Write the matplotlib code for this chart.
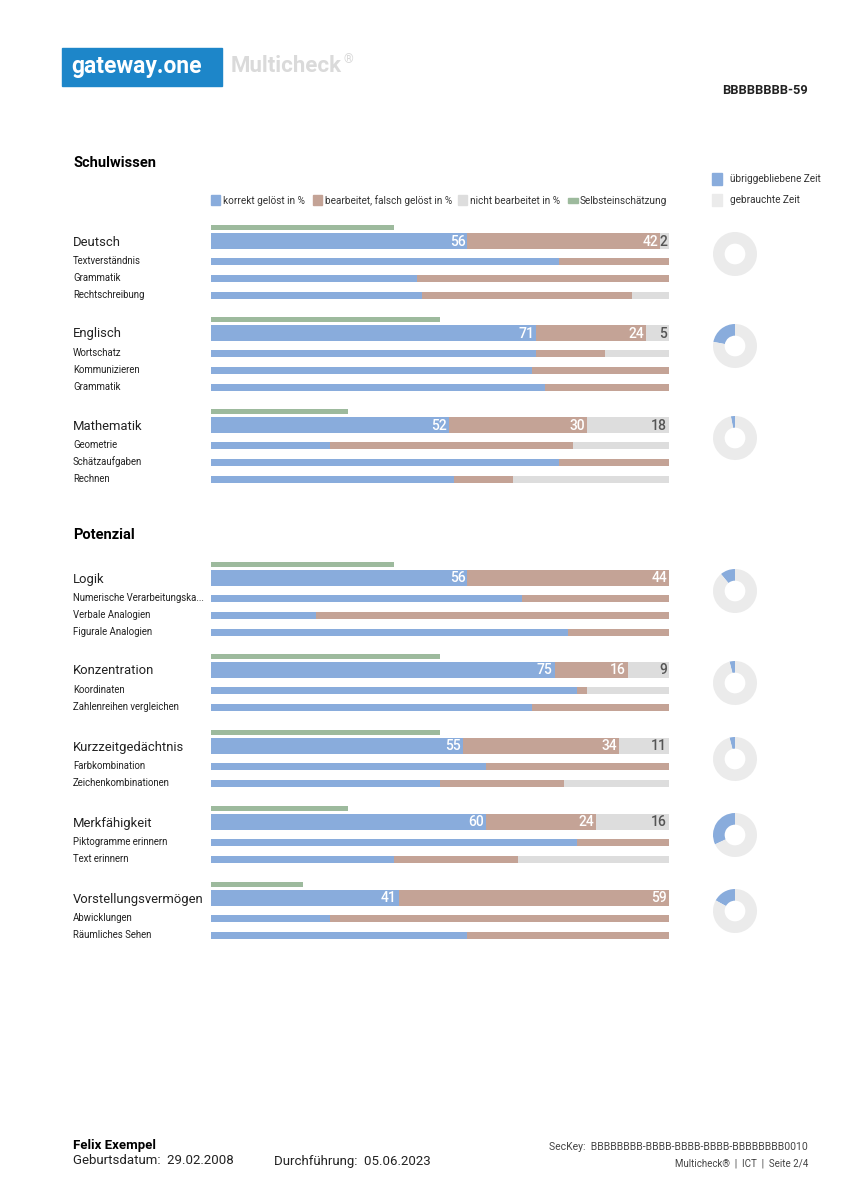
import matplotlib
matplotlib.use("Agg")
import matplotlib.pyplot as plt
from matplotlib.patches import Rectangle

# ---------------- data ----------------
sections = ["Schulwissen", "Potenzial"]
groups = ["Deutsch", "Englisch", "Mathematik",
          "Logik", "Konzentration", "Kurzzeitgedächtnis", "Merkfähigkeit", "Vorstellungsvermögen"]
group_correct = [56, 71, 52, 56, 75, 55, 60, 41]
group_wrong = [42, 24, 30, 44, 16, 34, 24, 59]
group_open = [2, 5, 18, 0, 9, 11, 16, 0]
self_assessment = [40, 50, 30, 40, 50, 50, 30, 20]
remaining_time = [0, 22, 3, 11, 4, 4, 32, 17]

sub_names = [
    ["Textverständnis", "Grammatik", "Rechtschreibung"],
    ["Wortschatz", "Kommunizieren", "Grammatik"],
    ["Geometrie", "Schätzaufgaben", "Rechnen"],
    ["Numerische Verarbeitungska...", "Verbale Analogien", "Figurale Analogien"],
    ["Koordinaten", "Zahlenreihen vergleichen"],
    ["Farbkombination", "Zeichenkombinationen"],
    ["Piktogramme erinnern", "Text erinnern"],
    ["Abwicklungen", "Räumliches Sehen"],
]
sub_correct = [[76, 45, 46], [71, 70, 73], [26, 76, 53], [68, 23, 78],
               [80, 70], [60, 50], [80, 40], [26, 56]]
sub_wrong = [[24, 55, 46], [15, 30, 27], [53, 24, 13], [32, 77, 22],
             [2, 30], [40, 27], [20, 27], [74, 44]]
sub_open = [[0, 0, 8], [14, 0, 0], [21, 0, 34], [0, 0, 0],
            [18, 0], [0, 23], [0, 33], [0, 0]]

legend_labels = ["korrekt gelöst in %", "bearbeitet, falsch gelöst in %",
                 "nicht bearbeitet in %", "Selbsteinschätzung"]
time_labels = ["übriggebliebene Zeit", "gebrauchte Zeit"]

# ---------------- style ----------------
plt.rcParams["font.family"] = ["Roboto", "DejaVu Sans"]

BLUE = "#89acdc"
BROWN = "#c4a396"
GREY = "#dddddd"
GREEN = "#9dba9d"
DONUT_GREY = "#ebebeb"
TXT = "#222222"

W, H = 848, 1200
fig = plt.figure(figsize=(W / 100, H / 100), dpi=100)
bg = fig.add_axes([0, 0, 1, 1])
bg.set_xlim(0, W)
bg.set_ylim(H, 0)
bg.axis("off")

BX0, BX1 = 211, 669
ax = fig.add_axes([BX0 / W, 0, (BX1 - BX0) / W, 1])
ax.set_xlim(0, 100)
ax.set_ylim(H, 0)
ax.axis("off")

# ---------------- header ----------------
bg.add_patch(Rectangle((62, 48), 160, 38, color="#1d86c9"))
bg.text(137, 67, "gateway.one", color="white", fontsize=16.5, fontweight="bold",
        ha="center", va="center")
mc = bg.text(231, 66, "Multicheck", color="#dadada", fontsize=16, fontweight="bold",
             ha="left", va="center")
renderer = fig.canvas.get_renderer()
ext = mc.get_window_extent(renderer)
bg.text(ext.x1 + 1, 60, "®", color="#dadada", fontsize=9, ha="left", va="center")
bg.text(808, 90, "BBBBBBBB-59", fontsize=9.3, fontweight="bold", ha="right",
        va="center", color=TXT)

# section headings
section_y = [163, 535]
for s, y in zip(sections, section_y):
    bg.text(73, y, s, fontsize=10.5, fontweight="bold", ha="left", va="center",
            color="black")

# legend
leg_x = [211, 313, 458, 568]
leg_colors = [BLUE, BROWN, GREY, GREEN]
for i, (lx, lab, c) in enumerate(zip(leg_x, legend_labels, leg_colors)):
    if i < 3:
        bg.add_patch(Rectangle((lx, 195), 9, 10, color=c))
    else:
        bg.add_patch(Rectangle((lx, 198), 10, 5, color=c))
    bg.text(lx + 12, 200.5, lab, fontsize=7.2, ha="left", va="center",
            color="#333333")

# time legend
for i, (lab, c) in enumerate(zip(time_labels, [BLUE, DONUT_GREY])):
    y = 179 + i * 21
    bg.add_patch(Rectangle((712, y - 6), 10, 12, color=c))
    bg.text(730, y, lab, fontsize=7.2, ha="left", va="center", color="#333333")

# ---------------- bars ----------------
main_y = [241, 333, 425, 578, 670, 746, 822, 898]
MAIN_H = 16
SUB_H = 7
for gi, g in enumerate(groups):
    y = main_y[gi]
    ax.barh(y - 14, self_assessment[gi], height=5, left=0, color=GREEN)
    c, w, o = group_correct[gi], group_wrong[gi], group_open[gi]
    ax.barh(y, c, height=MAIN_H, left=0, color=BLUE)
    ax.barh(y, w, height=MAIN_H, left=c, color=BROWN)
    ax.barh(y, o, height=MAIN_H, left=c + w, color=GREY)
    if c > 0:
        ax.text(c - 0.4, y + 0.5, str(c), ha="right", va="center", color="white",
                fontsize=10, fontweight="medium")
    if w > 0:
        ax.text(c + w - 0.4, y + 0.5, str(w), ha="right", va="center", color="white",
                fontsize=10, fontweight="medium")
    if o > 0:
        ax.text(100 - 0.4, y + 0.5, str(o), ha="right", va="center", color="#555555",
                fontsize=10, fontweight="medium")
    bg.text(73, y + 1, g, fontsize=9.4, ha="left", va="center", color=TXT)

    for si, sname in enumerate(sub_names[gi]):
        sy = y + 20 + si * 17
        sc, sw, so = sub_correct[gi][si], sub_wrong[gi][si], sub_open[gi][si]
        ax.barh(sy, sc, height=SUB_H, left=0, color=BLUE)
        ax.barh(sy, sw, height=SUB_H, left=sc, color=BROWN)
        ax.barh(sy, so, height=SUB_H, left=sc + sw, color=GREY)
        bg.text(73, sy, sname, fontsize=6.9, ha="left", va="center", color=TXT)

    # donut of remaining time
    cy = y + 13
    R = 22
    dax = fig.add_axes([(735 - R) / W, 1 - (cy + R) / H, 2 * R / W, 2 * R / H])
    rem = remaining_time[gi]
    dax.pie([rem, 100 - rem], colors=[BLUE, DONUT_GREY], startangle=90,
            counterclock=True, wedgeprops=dict(width=0.53, linewidth=0))
    dax.set_xlim(-1, 1)
    dax.set_ylim(-1, 1)
    dax.set_aspect("equal")
    dax.axis("off")

# ---------------- footer ----------------
bg.text(73, 1145, "Felix Exempel", fontsize=9.5, fontweight="bold", ha="left",
        va="center", color="black")
bg.text(73, 1161, "Geburtsdatum:  29.02.2008", fontsize=9.5, ha="left",
        va="center", color=TXT)
bg.text(274, 1161, "Durchführung:  05.06.2023", fontsize=9.5, ha="left",
        va="center", color=TXT)
bg.text(808, 1147, "SecKey:  BBBBBBBB-BBBB-BBBB-BBBB-BBBBBBBB0010", fontsize=7.5,
        ha="right", va="center", color="#444444")
bg.text(808, 1164, "Multicheck®  |  ICT  |  Seite 2/4", fontsize=7,
        ha="right", va="center", color="#444444")

fig.savefig("out.png", dpi=100)
